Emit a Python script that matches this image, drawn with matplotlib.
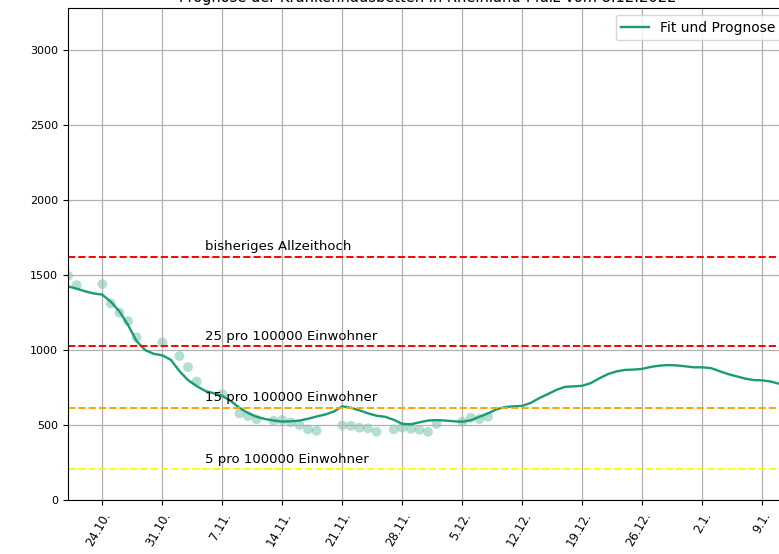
import numpy as np
import pandas as pd
import matplotlib
matplotlib.use("Agg")
import matplotlib.pyplot as plt
import matplotlib.dates as mdates

# gemeldete Werte (Punkte)
data_dates = ["2022-10-20", "2022-10-21", "2022-10-24", "2022-10-25", "2022-10-26",
              "2022-10-27", "2022-10-28", "2022-10-31", "2022-11-02", "2022-11-03",
              "2022-11-04", "2022-11-07", "2022-11-09", "2022-11-10", "2022-11-11",
              "2022-11-13", "2022-11-14", "2022-11-15", "2022-11-16", "2022-11-17",
              "2022-11-18", "2022-11-21", "2022-11-22", "2022-11-23", "2022-11-24",
              "2022-11-25", "2022-11-27", "2022-11-28", "2022-11-29", "2022-11-30",
              "2022-12-01", "2022-12-02", "2022-12-05", "2022-12-06", "2022-12-07",
              "2022-12-08"]
data_values = [1495, 1433, 1440, 1311, 1249, 1193, 1085, 1051, 960, 887,
               790, 707, 578, 560, 538, 529, 533, 518, 500, 471,
               462, 497, 495, 482, 478, 455, 471, 482, 475, 468,
               455, 507, 522, 548, 540, 555]

# Fit und Prognose, taeglich ab 20.10.
fit_start = "2022-10-20"
fit_values = [1425, 1410, 1392, 1378, 1370, 1322, 1258, 1168, 1060, 1000,
              975, 965, 935, 860, 800, 760, 728, 712, 695, 660,
              615, 580, 555, 540, 530, 523, 525, 530, 542, 557,
              570, 590, 625, 615, 598, 578, 562, 555, 535, 508,
              505, 518, 530, 533, 530, 525, 522, 532, 555, 578,
              605, 620, 625, 628, 648, 680, 707, 735, 755, 758,
              762, 780, 812, 840, 858, 868, 870, 875, 888, 896,
              900, 898, 892, 885, 885, 880, 860, 840, 825, 810,
              800, 798, 790, 775]

einwohner = 4098000
allzeithoch = 1620
schwellen = [25, 15, 5]

data_x = pd.to_datetime(data_dates)
fit_x = pd.date_range(fit_start, periods=len(fit_values), freq="D")

farbe = "#1b9a78"

fig = plt.figure(figsize=(7.79, 5.54), dpi=100)
ax = fig.add_axes([68 / 779, 54 / 554, 720 / 779, 491.7 / 554])

ax.scatter(data_x, data_values, s=50, color=farbe, alpha=0.32, edgecolors="none")
ax.plot(fit_x, fit_values, color=farbe, lw=1.7, label="Fit und Prognose")

txt_x = pd.Timestamp("2022-11-05")
ax.axhline(allzeithoch, color="red", ls="--", lw=1.4)
ax.text(txt_x, allzeithoch + 25, "bisheriges Allzeithoch", fontsize=9.5, va="bottom")
for s, c in zip(schwellen, ["red", "orange", "yellow"]):
    y = s * einwohner / 100000
    ax.axhline(y, color=c, ls="--", lw=1.4)
    ax.text(txt_x, y + 25, f"{s} pro 100000 Einwohner", fontsize=9.5, va="bottom")

ax.set_xlim(pd.Timestamp("2022-10-20"), pd.Timestamp("2023-01-12"))
ax.set_ylim(0, 3280)
ax.set_yticks(np.arange(0, 3001, 500))
ax.xaxis.set_major_locator(mdates.WeekdayLocator(byweekday=mdates.MO))
ax.xaxis.set_major_formatter(mdates.DateFormatter("%-d.%-m."))
ax.tick_params(axis="y", labelsize=8)
ax.tick_params(axis="x", labelsize=8.5)
plt.setp(ax.get_xticklabels(), rotation=60, ha="right", va="top",
         rotation_mode="anchor")
ax.grid(True, color="#b0b0b0", lw=0.9)

ax.set_title("Prognose der Krankenhausbetten in Rheinland-Pfalz vom 8.12.2022",
             fontsize=10.5, pad=4.5)
ax.legend(loc="upper right", fontsize=10)

fig.savefig("out.png", dpi=100)
